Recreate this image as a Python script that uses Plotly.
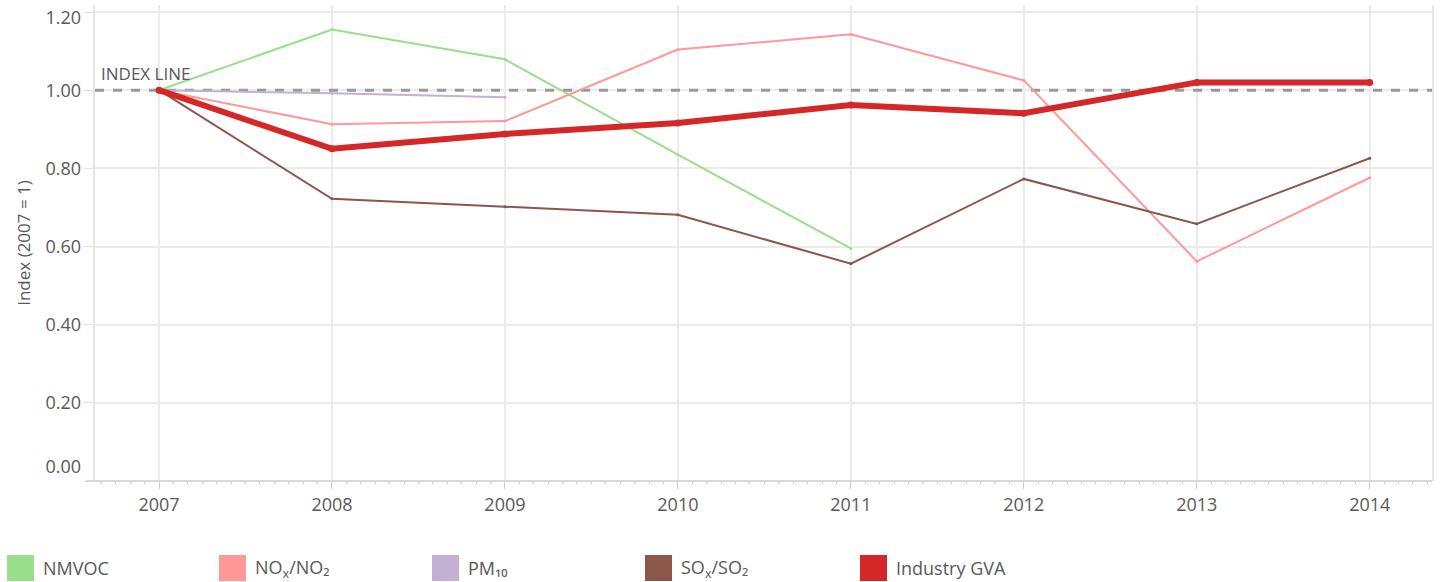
import plotly.graph_objects as go

years = [2007, 2008, 2009, 2010, 2011, 2012, 2013, 2014]
nmvoc = [1.0, 1.155, 1.079, 0.835, 0.595, None, None, None]
nox = [1.0, 0.913, 0.921, 1.104, 1.143, 1.025, 0.562, 0.776]
pm10 = [1.0, 0.992, 0.982, None, None, None, None, None]
sox = [1.0, 0.722, 0.702, 0.681, 0.556, 0.773, 0.658, 0.826]
gva = [1.0, 0.850, 0.888, 0.916, 0.962, 0.941, 1.020, 1.020]

series_names = ["NMVOC", "NO<sub>x</sub>/NO₂", "PM₁₀", "SO<sub>x</sub>/SO₂", "Industry GVA"]
series_colors = ["#98df8a", "#ff9896", "#c5b0d5", "#8c564b", "#d62728"]
series_values = [nmvoc, nox, pm10, sox, gva]
series_widths = [2, 2, 2, 2, 6]

y_ticks = [0.0, 0.2, 0.4, 0.6, 0.8, 1.0, 1.2]
y_tick_text = ["0.00", "0.20", "0.40", "0.60", "0.80", "1.00", "1.20"]

FONT = "Open Sans"
TXT = "#595959"
FS = 18

fig = go.Figure()

# index line
fig.add_trace(go.Scatter(
    x=[2006.63, 2014.36], y=[1.0, 1.0], mode="lines",
    line=dict(color="#999999", width=3, dash="dash"),
    hoverinfo="skip", showlegend=False))

for name, col, vals, w in zip(series_names, series_colors, series_values, series_widths):
    fig.add_trace(go.Scatter(
        x=years, y=vals, mode="lines+markers", name=name,
        line=dict(color=col, width=w),
        marker=dict(color=col, size=7 if w > 3 else 3),
        showlegend=False))

# y-axis labels (label positions clamped inside plot area like reference)
label_pos = list(y_ticks)
label_pos[0] = 0.036
label_pos[-1] = 1.185
fig.add_trace(go.Scatter(x=[None], y=[None], yaxis="y2", showlegend=False))

x0px, x1px = 95, 1432
top_px, bot_px = 5, 481
W, H = 1440, 582

def px_x(p):
    return (p - x0px) / (x1px - x0px)

def px_y(p):
    return (bot_px - p) / (bot_px - top_px)

shapes = []
annotations = []

# x axis line extended slightly left of plot frame
shapes.append(dict(type="line", xref="paper", yref="paper",
                   x0=px_x(86), x1=1, y0=0, y1=0,
                   line=dict(color="#cccccc", width=1.5)))

# legend built from the series lists
leg_x = [7, 219, 432, 645, 860]
for lx, name, col in zip(leg_x, series_names, series_colors):
    shapes.append(dict(type="rect", xref="paper", yref="paper",
                       x0=px_x(lx), x1=px_x(lx + 27), y0=px_y(581), y1=px_y(555),
                       fillcolor=col, line=dict(width=0)))
    annotations.append(dict(xref="paper", yref="paper", x=px_x(lx + 34), y=px_y(568),
                            text=name, showarrow=False, xanchor="left", yanchor="middle",
                            font=dict(family=FONT, size=FS, color=TXT)))

annotations.append(dict(xref="paper", yref="y", x=px_x(99), y=1.0, yshift=3,
                        text="INDEX LINE", showarrow=False, xanchor="left", yanchor="bottom",
                        font=dict(family=FONT, size=FS - 1, color=TXT)))

fig.update_layout(
    width=W, height=H,
    margin=dict(l=x0px, r=W - x1px, t=top_px, b=H - bot_px),
    paper_bgcolor="white", plot_bgcolor="white",
    showlegend=False,
    font=dict(family=FONT, color=TXT),
    shapes=shapes, annotations=annotations,
    xaxis=dict(range=[2006.63, 2014.36], tickvals=years, ticktext=[str(y) for y in years],
               showgrid=True, gridcolor="#ebebeb", gridwidth=1.5,
               ticks="outside", ticklen=7, tickcolor="#cccccc",
               tickfont=dict(family=FONT, size=FS, color=TXT),
               showline=False, zeroline=False, mirror=False,
               minor=dict(dtick=1/12, tick0=2007, ticks="outside", ticklen=2,
                          tickcolor="#cccccc", showgrid=False)),
    yaxis=dict(range=[0, 1.218], tickvals=y_ticks, showticklabels=False,
               showgrid=True, gridcolor="#ebebeb", gridwidth=1.5,
               ticks="outside", ticklen=9, tickcolor="#e0e0e0",
               zeroline=False, showline=True, linecolor="#e6e6e6", linewidth=1.5,
               mirror=True),
    yaxis2=dict(range=[0, 1.218], overlaying="y", side="left",
                tickvals=label_pos, ticktext=y_tick_text,
                showgrid=False, zeroline=False, showline=False, ticks="",
                ticklabelstandoff=13,
                tickfont=dict(family=FONT, size=FS, color=TXT),
                title=dict(text="Index (2007 = 1)", standoff=10,
                           font=dict(family=FONT, size=FS - 1, color=TXT))),
)

fig.write_html("out.html", config={"displayModeBar": False},
               post_script="document.body.style.margin='0';document.body.style.overflow='hidden';")
